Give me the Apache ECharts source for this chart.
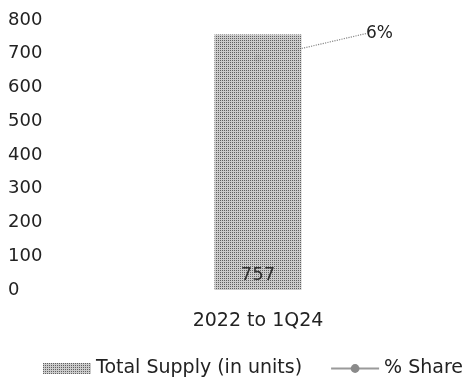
<!DOCTYPE html>
<html><head><meta charset="utf-8">
<script src="https://cdn.jsdelivr.net/npm/echarts@6/dist/echarts.min.js"></script>
<style>html,body{margin:0;padding:0;background:#fff}#c{width:473px;height:385px}</style>
</head><body><div id="c"></div>
<script>
var categories = ['2022 to 1Q24'];
var totalSupply = [757];
var shareValues = [6];
var yTicks = [0, 100, 200, 300, 400, 500, 600, 700, 800];
var seriesNames = ['Total Supply (in units)', '% Share'];

var FONT = 'DejaVu Sans';
var chart = echarts.init(document.getElementById('c'));
chart.setOption({
  animation: false,
  textStyle: { fontFamily: FONT },
  grid: { left: 55, right: 12, top: 20, bottom: 95 },
  xAxis: {
    type: 'category', data: categories,
    axisLine: { show: false }, axisTick: { show: false },
    axisLabel: { fontSize: 19, color: '#222', margin: 22, fontFamily: FONT }
  },
  yAxis: [{
    type: 'value', min: yTicks[0], max: yTicks[yTicks.length - 1], interval: 100,
    splitLine: { show: false }, axisLine: { show: false }, axisTick: { show: false },
    axisLabel: { fontSize: 18, color: '#222', align: 'left', margin: 47, fontFamily: FONT }
  }, {
    type: 'value', min: 0, max: 7, show: false
  }],
  legend: {
    bottom: 7, left: 43, width: 430, padding: 0, itemGap: 28, itemWidth: 48, itemHeight: 11,
    textStyle: { fontSize: 19, color: '#222', fontFamily: FONT },
    data: [
      { name: seriesNames[0], icon: 'rect' },
      { name: seriesNames[1] }
    ]
  },
  series: [{
    name: seriesNames[0], type: 'bar', data: totalSupply, barWidth: 87, z: 3,
    itemStyle: {
      color: '#c6c6c6', opacity: 0.9,
      decal: { symbol: 'rect', symbolSize: 1, dashArrayX: [1, 1], dashArrayY: [1, 1], color: '#555555', rotation: 0 }
    },
    label: { show: true, position: 'insideBottom', distance: 6, fontSize: 18, color: '#222', fontFamily: FONT }
  }, {
    name: seriesNames[1], type: 'line', yAxisIndex: 1, data: shareValues, z: 2,
    symbol: 'circle', symbolSize: 8,
    itemStyle: { color: '#8a8a8a' }, lineStyle: { color: '#9a9a9a', width: 2 },
    label: { show: true, formatter: '{c}%', fontSize: 17, color: '#222', fontFamily: FONT, position: 'right' },
    labelLayout: { dx: 99, dy: -25 },
    labelLine: { show: true, lineStyle: { color: '#888', width: 1.2, type: 'dotted' } }
  }]
});
</script></body></html>
